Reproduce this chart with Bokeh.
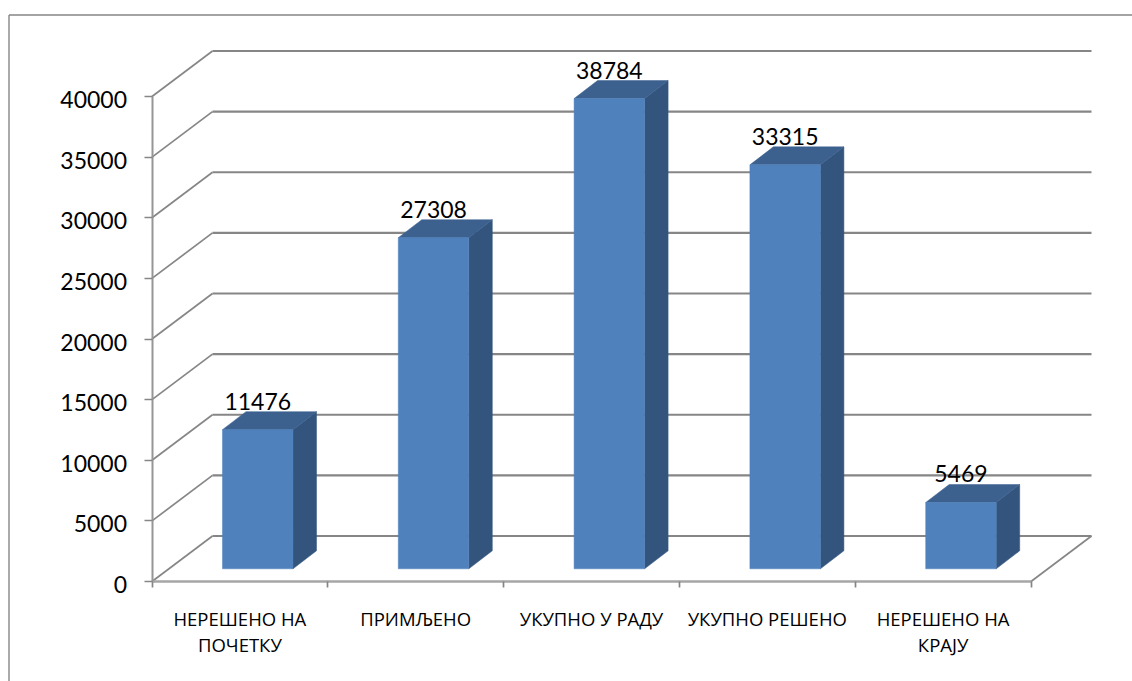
from bokeh.embed import file_html
from bokeh.resources import INLINE
from bokeh.plotting import figure
from bokeh.models import LinearAxis, FixedTicker, Range1d, ColumnDataSource
from bokeh.core.properties import value

categories = ["НЕРЕШЕНО НА\nПОЧЕТКУ", "ПРИМЉЕНО", "УКУПНО У РАДУ", "УКУПНО РЕШЕНО", "НЕРЕШЕНО НА\nКРАЈУ"]
values = [11476, 27308, 38784, 33315, 5469]
y_ticks = [0, 5000, 10000, 15000, 20000, 25000, 30000, 35000, 40000]

W, H = 1132, 681
PX_X = 175.8          # pixels per category
PX_Y = 485 / 40000    # pixels per unit
X0, Y0 = 151.5, 581.0 # page position of data origin
GRAY = "#868686"
LABEL_DROP = 3        # tick labels sit slightly below their ticks

def px(x_page):
    return (x_page - X0) / PX_X

def py(y_page):
    return (Y0 - y_page) / PX_Y

wall_dx, wall_dy = 60.5 / PX_X, 45.5 / PX_Y
bar_dx, bar_dy = 23.5 / PX_X, 18 / PX_Y
bar_w = 70.5 / PX_X
bar_lift = 12.7 / PX_Y
bar_inset = 0.401
n = len(categories)

p = figure(width=W, height=H, output_backend="svg", toolbar_location=None,
           x_range=Range1d(px(0), px(W)), y_range=Range1d(py(H), py(0)),
           min_border=0, min_border_left=0, min_border_right=0, min_border_top=0, min_border_bottom=0,
           x_axis_type=None, y_axis_type=None, outline_line_color=None)
p.extra_y_ranges = {"labels": Range1d(py(H - LABEL_DROP), py(-LABEL_DROP))}
p.grid.visible = False

# chart-area border (left and top only are in view)
p.segment(x0=[px(8.5), px(8.5)], y0=[py(14.5), py(14.5)], x1=[px(8.5), px(W)], y1=[py(H), py(14.5)],
          line_color=GRAY, line_width=1.4)

# 3D gridlines
p.segment(x0=[0] * len(y_ticks), y0=y_ticks, x1=[wall_dx] * len(y_ticks), y1=[v + wall_dy for v in y_ticks],
          line_color=GRAY, line_width=1.7)
p.segment(x0=[wall_dx] * len(y_ticks), y0=[v + wall_dy for v in y_ticks],
          x1=[n + wall_dx] * len(y_ticks), y1=[v + wall_dy for v in y_ticks],
          line_color=GRAY, line_width=2.2)
p.segment(x0=[n], y0=[0], x1=[n + wall_dx], y1=[wall_dy], line_color=GRAY, line_width=1.7)

# bars
lefts = [i + bar_inset for i in range(n)]
rights = [l + bar_w for l in lefts]
base = bar_lift
fx, fy, tx, ty, sx, sy = [], [], [], [], [], []
for l, r, v in zip(lefts, rights, values):
    top = base + v
    fx.append([l, r, r, l]); fy.append([base, base, top, top])
    tx.append([l, r, r + bar_dx, l + bar_dx]); ty.append([top, top, top + bar_dy, top + bar_dy])
    sx.append([r, r + bar_dx, r + bar_dx, r]); sy.append([base, base + bar_dy, top + bar_dy, top])
p.patches(sx, sy, fill_color="#32547D", line_color="#32547D", line_width=0.5)
p.patches(tx, ty, fill_color="#3C618F", line_color="#3C618F", line_width=0.5)
p.patches(fx, fy, fill_color="#4F81BD", line_color="#4F81BD", line_width=0.5)

# value labels
lab = ColumnDataSource(dict(x=[l + bar_w / 2 for l in lefts],
                            y=[base + v + bar_dy for v in values],
                            t=[str(v) for v in values]))
p.text(x="x", y="y", text="t", source=lab, text_align="center", text_baseline="alphabetic", y_offset=-10.5,
       text_font=value("Lato"), text_font_size="23px", text_color="#000000")

# axes on the front plane: ticks and line
yax = LinearAxis(fixed_location=0, ticker=FixedTicker(ticks=y_ticks), bounds=(0, 40000))
yax.axis_line_color = "#969696"; yax.axis_line_width = 2
yax.major_tick_line_color = GRAY; yax.major_tick_line_width = 1.7
yax.major_tick_out = 8; yax.major_tick_in = 0; yax.minor_tick_out = 0; yax.minor_tick_in = 0
yax.major_label_text_font_size = "0px"
yax.major_label_text_color = None
p.add_layout(yax, "left")

# tick labels of the value axis
ylab = LinearAxis(fixed_location=0, y_range_name="labels", ticker=FixedTicker(ticks=y_ticks), bounds=(0, 40000))
ylab.axis_line_color = None; ylab.major_tick_line_color = None; ylab.minor_tick_line_color = None
ylab.major_tick_out = 8; ylab.major_tick_in = 0; ylab.minor_tick_out = 0; ylab.minor_tick_in = 0
ylab.major_label_standoff = 17
ylab.major_label_text_font = "Lato"; ylab.major_label_text_font_size = "23px"; ylab.major_label_text_color = "#000000"
p.add_layout(ylab, "left")

centers = [i + 0.5 for i in range(n)]
xax = LinearAxis(fixed_location=0, bounds=(0, n),
                 ticker=FixedTicker(ticks=centers, minor_ticks=list(range(n + 1))))
xax.major_label_overrides = {c: t for c, t in zip(centers, categories)}
xax.axis_line_color = "#A6A6A6"; xax.axis_line_width = 2.4
xax.major_tick_out = 0; xax.major_tick_in = 0
xax.minor_tick_line_color = GRAY; xax.minor_tick_line_width = 1.7; xax.minor_tick_out = 6; xax.minor_tick_in = 0
xax.major_label_standoff = 18
xax.major_label_text_font = "Open Sans"; xax.major_label_text_font_size = "18.5px"; xax.major_label_text_color = "#000000"
xax.major_label_text_line_height = 1.05
p.add_layout(xax, "below")

open("out.html", "w").write(file_html(p, INLINE))
